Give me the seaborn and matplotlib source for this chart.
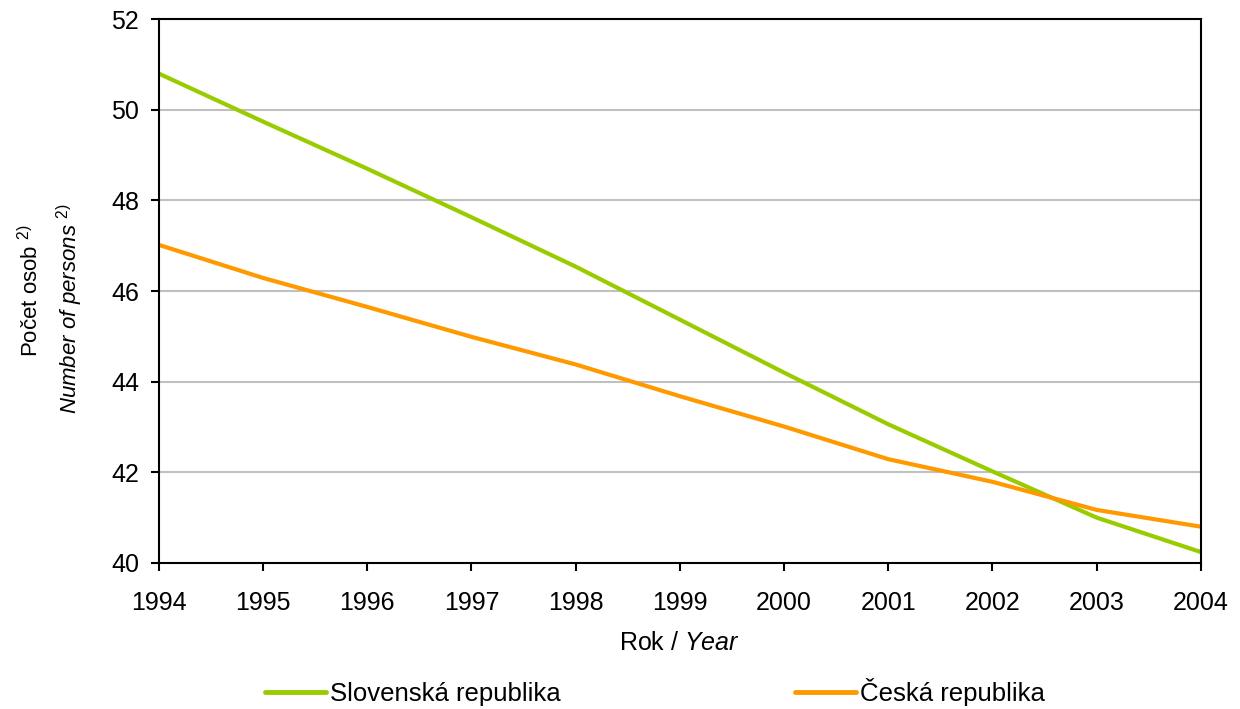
import matplotlib
matplotlib.use('Agg')
import matplotlib.pyplot as plt
import pandas as pd
import seaborn as sns

# Data
years = [1994, 1995, 1996, 1997, 1998, 1999, 2000, 2001, 2002, 2003, 2004]
slovensko = [50.80, 49.74, 48.70, 47.63, 46.54, 45.37, 44.20, 43.06, 42.02, 41.00, 40.24]
cesko = [47.02, 46.29, 45.65, 44.99, 44.38, 43.68, 43.01, 42.29, 41.79, 41.17, 40.80]
series_names = ['Slovenská republika', 'Česká republika']
colors = ['#99cc00', '#ff9900']

sns.set_theme(style='white')
plt.rcParams['font.family'] = ['Liberation Sans', 'DejaVu Sans']
plt.rcParams['mathtext.fontset'] = 'custom'
plt.rcParams['mathtext.rm'] = 'Liberation Sans'
plt.rcParams['mathtext.it'] = 'Liberation Sans:italic'

df = pd.DataFrame({'Rok': years * 2,
                   'value': slovensko + cesko,
                   'serie': [series_names[0]] * len(years) + [series_names[1]] * len(years)})

fig = plt.figure(figsize=(12.4, 7.09), dpi=100)
ax = fig.add_axes([0.128, 0.206, 0.8405, 0.767])
sns.lineplot(data=df, x='Rok', y='value', hue='serie', hue_order=series_names,
             palette=colors, linewidth=3, ax=ax, legend=False)

ax.set_xlim(1994, 2004)
ax.set_ylim(40, 52)
ax.set_xticks(years)
ax.set_yticks(range(40, 53, 2))
ax.yaxis.grid(True, color='#c0c0c0', linewidth=1.5)
ax.xaxis.grid(False)
for s in ax.spines.values():
    s.set_color('black')
    s.set_linewidth(1.5)
ax.tick_params(axis='both', direction='out', length=6, width=1.5, color='black',
               labelsize=18, labelcolor='black', left=True, bottom=True)
ax.tick_params(axis='x', pad=14)
ax.tick_params(axis='y', pad=8)

ax.set_xlabel(r'Rok / $\mathit{Year}$', fontsize=18, labelpad=12, color='black')
ax.set_ylabel('')
fig.text(0.025, 0.59, r'Počet osob $^{2)}$', rotation=90, fontsize=16,
         ha='center', va='center', color='black')
fig.text(0.056, 0.564, r'Number of persons $^{2)}$', rotation=90, fontsize=16,
         style='italic', ha='center', va='center', color='black')

handles = [plt.Line2D([], [], color=c, linewidth=3.5) for c in colors]
fig.legend(handles, series_names, loc='center', bbox_to_anchor=(0.528, 0.024),
           ncol=2, frameon=False, fontsize=18.5, handlelength=2.4,
           handletextpad=0.15, columnspacing=9.1, labelcolor='black')

fig.savefig('out.png', dpi=100)
